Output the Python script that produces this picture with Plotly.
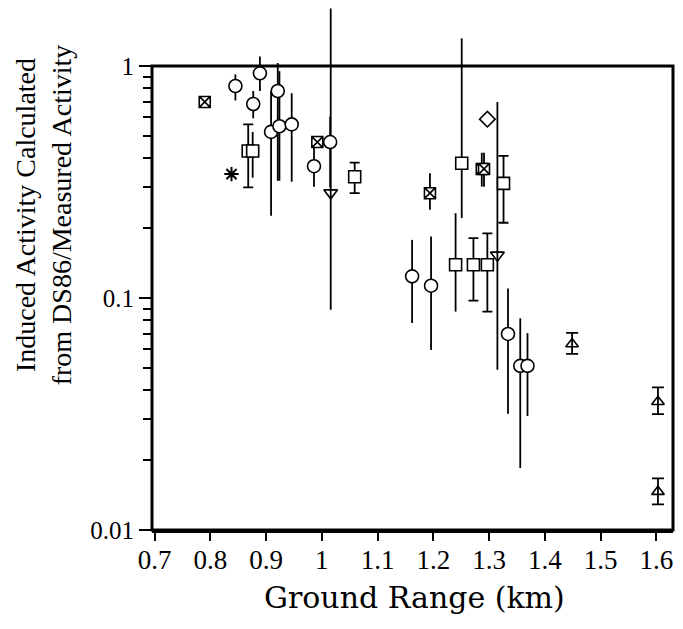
import plotly.graph_objects as go

# ---- data ----
circ_x = [0.845, 0.889, 0.877, 0.909, 0.921, 0.924, 0.946, 0.986, 1.015, 1.162, 1.196, 1.334, 1.356, 1.369]
circ_y = [0.82, 0.93, 0.686, 0.52, 0.78, 0.55, 0.56, 0.37, 0.47, 0.124, 0.113, 0.070, 0.051, 0.051]
circ_hi = [0.92, 1.10, 0.78, 0.78, 1.03, 0.95, 0.763, 0.449, 0.605, 0.178, 0.184, 0.110, 0.0817, 0.0706]
circ_lo = [0.71, 0.78, 0.595, 0.226, 0.32, 0.32, 0.317, 0.302, 0.30, 0.078, 0.0597, 0.0317, 0.0185, 0.031]

sq_x = [0.868, 0.876, 1.059, 1.240, 1.251, 1.272, 1.297, 1.326]
sq_y = [0.43, 0.43, 0.333, 0.139, 0.381, 0.139, 0.139, 0.312]
sq_hi = [0.56, 0.52, 0.383, 0.232, 1.316, 0.181, 0.19, 0.41]
sq_lo = [0.30, 0.33, 0.283, 0.0874, 0.221, 0.0974, 0.0874, 0.211]
sq_capped = [1, 0, 1, 0, 0, 1, 1, 1]

bx_x = [0.790, 0.992, 1.194, 1.287, 1.291]
bx_y = [0.70, 0.47, 0.283, 0.36, 0.36]
bx_hi = [0.70, 0.47, 0.345, 0.423, 0.423]
bx_lo = [0.70, 0.47, 0.24, 0.302, 0.302]

dt_x = [1.016, 1.315]
dt_y = [0.284, 0.153]
dt_hi = [1.77, 0.70]
dt_lo = [0.089, 0.049]

ut_x = [1.449, 1.603, 1.603]
ut_y = [0.0633, 0.0357, 0.01463]
ut_hi = [0.0707, 0.0412, 0.0167]
ut_lo = [0.0574, 0.0316, 0.0129]

dia_x = [1.297]
dia_y = [0.59]

ast_x = [0.838]
ast_y = [0.342]

x_ticks = [0.7, 0.8, 0.9, 1.0, 1.1, 1.2, 1.3, 1.4, 1.5, 1.6]
x_ticktext = ["0.7", "0.8", "0.9", "1", "1.1", "1.2", "1.3", "1.4", "1.5", "1.6"]
y_ticks = [0.01, 0.1, 1]
y_ticktext = ["0.01", "0.1", "1"]
y_minor = [0.02, 0.03, 0.04, 0.05, 0.06, 0.07, 0.08, 0.09,
           0.2, 0.3, 0.4, 0.5, 0.6, 0.7, 0.8, 0.9]

Y_LOG_RANGE = [-2, 0.25]
TOP_FRAC = (0 - Y_LOG_RANGE[0]) / (Y_LOG_RANGE[1] - Y_LOG_RANGE[0])  # where y = 1 sits

fig = go.Figure()


def err_trace(xs, ys, his, los, cap):
    if not xs:
        return
    fig.add_trace(go.Scatter(
        x=xs, y=ys, mode="markers",
        marker=dict(size=1, color="rgba(0,0,0,0)"),
        error_y=dict(type="data", symmetric=False,
                     array=[h - y for h, y in zip(his, ys)],
                     arrayminus=[y - l for y, l in zip(ys, los)],
                     color="black", thickness=1.8, width=cap),
        showlegend=False, hoverinfo="skip"))


# error bars
err_trace(circ_x, circ_y, circ_hi, circ_lo, 0)
for flag, cap in ((0, 0), (1, 5)):
    idx = [i for i, c in enumerate(sq_capped) if c == flag]
    err_trace([sq_x[i] for i in idx], [sq_y[i] for i in idx],
              [sq_hi[i] for i in idx], [sq_lo[i] for i in idx], cap)
err_trace(bx_x, bx_y, bx_hi, bx_lo, 0)
err_trace(dt_x, dt_y, dt_hi, dt_lo, 0)
err_trace(ut_x, ut_y, ut_hi, ut_lo, 6)


def mark(xs, ys, symbol, size, fill="white", lw=1.6):
    fig.add_trace(go.Scatter(
        x=xs, y=ys, mode="markers",
        marker=dict(symbol=symbol, size=size, color=fill,
                    line=dict(color="black", width=lw)),
        showlegend=False))


mark(circ_x, circ_y, "circle", 13)
mark(sq_x, sq_y, "square", 12)
mark(bx_x, bx_y, "square-x", 11)
mark(dt_x, dt_y, "triangle-down-open", 12, fill="black")
mark(ut_x, ut_y, "triangle-up-open", 11, fill="black")
mark(dia_x, dia_y, "diamond-open", 12, fill="black")
mark(ast_x, ast_y, "asterisk-open", 12, fill="black", lw=2)

# frame box from y = 0.01 up to y = 1 (paper refs so it is not clipped)
fig.add_shape(type="rect", xref="paper", yref="paper", x0=0, x1=1,
              y0=0, y1=TOP_FRAC, line=dict(color="black", width=3),
              fillcolor="rgba(0,0,0,0)", layer="above")

fig.add_annotation(text="Induced Activity Calculated<br>from DS86/Measured Activity",
                   xref="paper", yref="paper", x=-0.209, y=0.603,
                   textangle=-90, showarrow=False, xanchor="center", yanchor="middle",
                   font=dict(family="Liberation Serif", size=28, color="black"))
fig.add_annotation(text="Ground Range (km)",
                   xref="paper", yref="paper", x=0.503, y=-0.1284,
                   showarrow=False, xanchor="center", yanchor="middle",
                   font=dict(family="DejaVu Serif", size=30, color="black"))

# the page body adds an 8px margin, so the figure is sized to fit inside the view
fig.update_layout(
    width=667, height=613,
    margin=dict(l=144, r=2, t=0, b=91, autoexpand=False),
    paper_bgcolor="white", plot_bgcolor="white",
    showlegend=False,
    xaxis=dict(range=[0.6954, 1.630], tickvals=x_ticks, ticktext=x_ticktext,
               showgrid=False, zeroline=False, showline=True, linecolor="black",
               linewidth=3, ticks="outside", ticklen=8, tickwidth=2, tickcolor="black",
               ticklabelstandoff=-4, automargin=False,
               tickfont=dict(family="Liberation Serif", size=27, color="black")),
    yaxis=dict(type="log", range=Y_LOG_RANGE, tickvals=y_ticks, ticktext=y_ticktext,
               showgrid=False, zeroline=False, showline=False, automargin=False,
               ticks="outside", ticklen=12, tickwidth=2, tickcolor="black",
               minor=dict(tickvals=y_minor, ticks="outside", ticklen=8,
                          tickwidth=2, tickcolor="black", showgrid=False),
               tickfont=dict(family="Liberation Serif", size=25, color="black")),
)

fig.write_html("out.html")
